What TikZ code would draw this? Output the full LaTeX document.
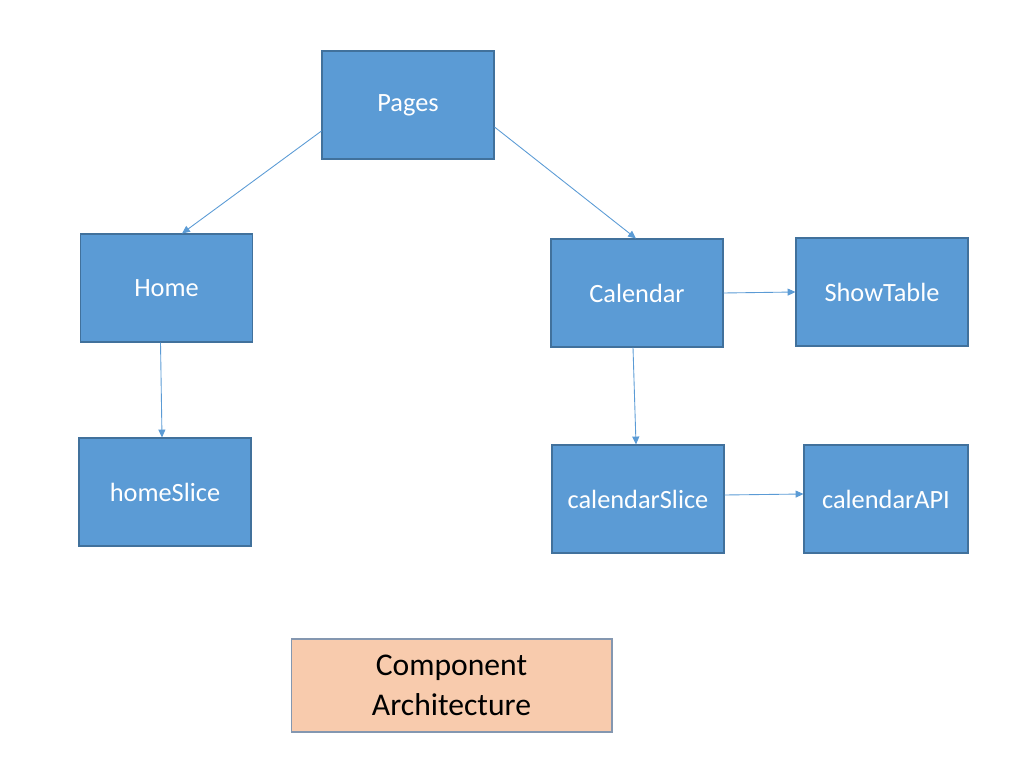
\documentclass[tikz,border=0pt]{standalone}
\usepackage{fontspec}
\setmainfont{Carlito}
\usetikzlibrary{arrows.meta,positioning}
\definecolor{blockblue}{RGB}{91,155,213}
\definecolor{blockedge}{RGB}{65,113,156}
\definecolor{peach}{RGB}{248,203,173}
\definecolor{peachedge}{RGB}{132,151,176}
\begin{document}
\begin{tikzpicture}[x=0.02cm, y=-0.02cm,
  comp/.style={draw=blockedge, fill=blockblue, line width=0.6pt, minimum width=3.44cm, minimum height=2.16cm, align=center, text=white, font=\fontsize{15}{18}\selectfont, inner sep=0pt},
  arr/.style={-{Triangle[length=4.5pt, width=4pt]}, line width=0.5pt, blockblue}
]
\useasboundingbox (0,0) rectangle (1021,783);
\node[comp] (pages) at (408,105) {Pages};
\node[comp] (home) at (166.5,288) {Home};
\node[comp] (homeslice) at (165,492) {homeSlice};
\node[comp] (calendar) at (637,293) {Calendar};
\node[comp] (showtable) at (882,292) {ShowTable};
\node[comp] (calslice) at (638,499) {calendarSlice};
\node[comp, minimum width=3.28cm] (calapi) at (886,499) {calendarAPI};
\node[draw=peachedge, fill=peach, line width=0.6pt, minimum width=6.42cm, minimum height=1.86cm, align=center, font=\fontsize{18}{22.7}\selectfont] (title) at (451.5,685.5) {Component\\Architecture};
% links
\draw[arr] ([yshift=-0.52cm]pages.west) -- ([xshift=0.31cm]home.north);
\draw[arr] ([yshift=-0.44cm]pages.east) -- ([xshift=-0.02cm]calendar.north);
\draw[arr] ([xshift=-0.12cm]home.south) -- ([xshift=-0.06cm]homeslice.north);
\draw[arr] ([xshift=-0.08cm]calendar.south) -- ([xshift=-0.04cm]calslice.north);
\draw[arr] (calendar.east) -- (showtable.west);
\draw[arr] ([yshift=0.08cm]calslice.east) -- ([yshift=0.1cm]calapi.west);
\end{tikzpicture}
\end{document}
